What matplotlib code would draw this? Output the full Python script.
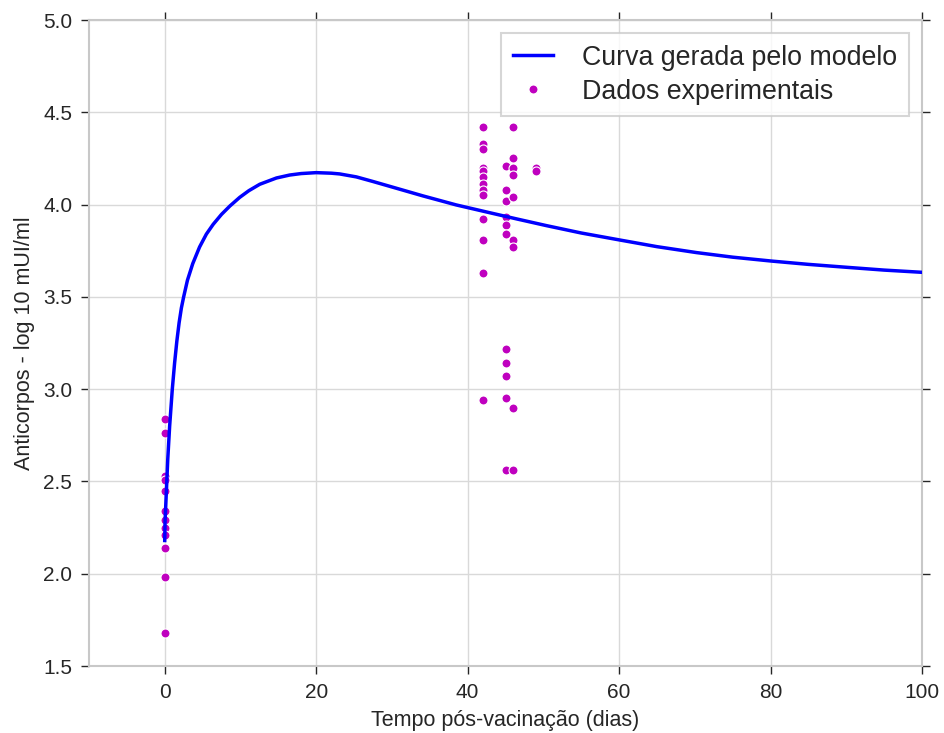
import matplotlib
matplotlib.use("Agg")
import matplotlib.pyplot as plt

# Model curve
curve_t = [0, 0.05, 0.2, 0.4, 0.65, 1.0, 1.3, 1.6, 1.9, 2.2, 2.5, 3.0, 3.7, 4.6,
           5.5, 6.4, 7.5, 8.6, 9.9, 11.1, 12.55, 14.75, 16.5, 18, 20, 22,
           23.1, 25.3, 27.5, 29.7, 34.1, 38.5, 42.9, 46.5, 50.4, 55, 60.1, 65,
           70.2, 75, 80.1, 85, 90.1, 95, 100]
curve_y = [2.18, 2.29, 2.43, 2.62, 2.80, 3.00, 3.14, 3.26, 3.36, 3.44, 3.50,
           3.59, 3.68, 3.77, 3.84, 3.893, 3.947, 3.992, 4.039, 4.075, 4.110,
           4.144, 4.160, 4.168, 4.173, 4.170, 4.166, 4.150, 4.125, 4.099, 4.047,
           3.998, 3.956, 3.922, 3.886, 3.846, 3.808, 3.772, 3.74, 3.715, 3.694,
           3.676, 3.66, 3.645, 3.633]

# Experimental data
data_t = ([0] * 12 + [42] * 13 + [45] * 11 + [46] * 9 + [49] * 2)
data_y = [2.84, 2.76, 2.53, 2.51, 2.45, 2.34, 2.29, 2.25, 2.21, 2.14, 1.98, 1.68,
          4.42, 4.33, 4.30, 4.20, 4.18, 4.15, 4.11, 4.08, 4.05, 3.92, 3.81, 3.63, 2.94,
          4.21, 4.08, 4.02, 3.93, 3.89, 3.84, 3.22, 3.14, 3.07, 2.95, 2.56,
          4.42, 4.25, 4.20, 4.16, 4.04, 3.81, 3.77, 2.90, 2.56,
          4.20, 4.18]

xticks = [0, 20, 40, 60, 80, 100]
yticks = [1.5, 2.0, 2.5, 3.0, 3.5, 4.0, 4.5, 5.0]

plt.rcParams['font.family'] = ['Liberation Sans', 'DejaVu Sans']
text_color = '#262626'

fig = plt.figure(figsize=(9.44, 7.33), dpi=100)
ax = fig.add_axes([89/944, 1 - 666/733, (922 - 89)/944, (666 - 20)/733])

ax.plot(data_t, data_y, 'o', color='#bf00bf', markersize=6.5, markeredgecolor='white',
        markeredgewidth=0.8, label='Dados experimentais', zorder=3)
ax.plot(curve_t, curve_y, color='#0000ff', lw=2.5, label='Curva gerada pelo modelo',
        zorder=4, solid_joinstyle='round')

ax.set_xlim(-10, 100)
ax.set_ylim(1.5, 5.0)
ax.set_xticks(xticks)
ax.set_yticks(yticks)
ax.set_yticklabels([f"{v:.1f}" for v in yticks])

ax.grid(True, color='#d9d9d9', lw=1, zorder=0)
ax.set_axisbelow(True)
for s in ax.spines.values():
    s.set_color('#c8c8c8')
    s.set_linewidth(1.5)

ax.tick_params(axis='both', which='major', direction='out', length=6, width=1,
               color='#262626', labelsize=15, labelcolor=text_color,
               top=True, right=True, pad=6)

ax.set_xlabel('Tempo pós-vacinação (dias)', fontsize=15.5, color=text_color, labelpad=6)
ax.set_ylabel('Anticorpos - log 10 mUI/ml', fontsize=15.5, color=text_color, labelpad=6)

handles, labels = ax.get_legend_handles_labels()
order = [1, 0]
leg = ax.legend([handles[i] for i in order], [labels[i] for i in order],
                loc='upper right', fontsize=19.3, numpoints=1, fancybox=False,
                frameon=True, borderaxespad=0.5, handlelength=1.5, handletextpad=1.1,
                labelspacing=0.3, borderpad=0.42)
leg.get_frame().set_edgecolor('#cccccc')
leg.get_frame().set_linewidth(1.5)
for t in leg.get_texts():
    t.set_color(text_color)

fig.savefig('out.png', dpi=100, facecolor='white')
